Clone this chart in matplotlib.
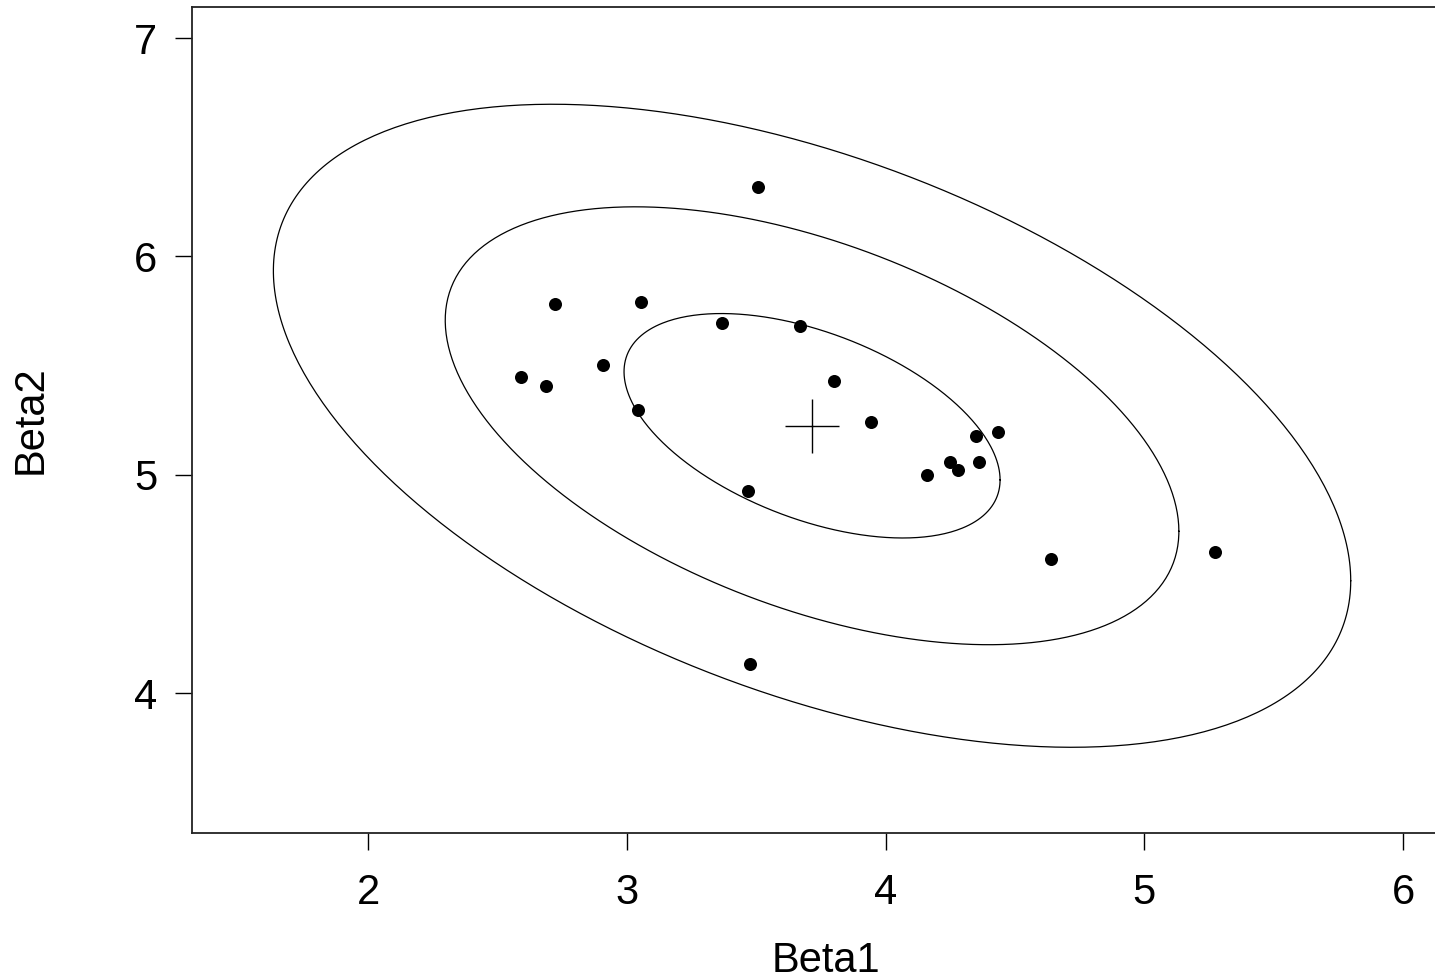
import numpy as np
import matplotlib.pyplot as plt

plt.rcParams['font.family'] = ['Liberation Sans', 'DejaVu Sans']

# sample estimates (Beta1, Beta2)
beta1 = [3.507, 2.723, 3.055, 3.368, 3.670, 2.591, 2.688, 2.908, 3.043, 3.801,
         3.944, 4.350, 4.435, 4.249, 4.280, 4.361, 4.160, 3.469, 4.640, 5.273,
         3.476]
beta2 = [6.318, 5.782, 5.791, 5.695, 5.681, 5.447, 5.406, 5.502, 5.296, 5.429,
         5.241, 5.177, 5.195, 5.058, 5.021, 5.058, 4.998, 4.925, 4.614, 4.646,
         4.133]

# centre of the distribution (marked with +) and ellipse shape
centre = [3.716, 5.224]
sd1 = 0.7266
sd2 = 0.514
rho = -0.482
levels = [1.0, 1.951, 2.865]

fig = plt.figure(figsize=(14.35, 9.8), dpi=100)
W, H = 1435, 980
ax = fig.add_axes([192 / W, (H - 833) / H, (1460 - 192) / W, (833 - 7) / H])

t = np.linspace(0, 2 * np.pi, 400)
for k in levels:
    ex = centre[0] + k * sd1 * np.cos(t)
    ey = centre[1] + k * sd2 * (rho * np.cos(t) + np.sqrt(1 - rho ** 2) * np.sin(t))
    ax.plot(ex, ey, color='black', lw=0.9)

ax.scatter(beta1, beta2, s=88, color='black', zorder=3, linewidths=0)
ax.plot([centre[0]], [centre[1]], marker='+', markersize=39, mew=1.0, color='black')

ax.set_xlim(1.3198, 6.220)
ax.set_ylim(3.3588, 7.142)
ax.set_xticks([2, 3, 4, 5, 6])
ax.set_yticks([4, 5, 6, 7])
ax.tick_params(length=12, width=1.0, labelsize=30, pad=13)
ax.tick_params(axis='x', pad=17)
for s in ax.spines.values():
    s.set_linewidth(1.3)
    s.set_color('#222222')

ax.set_xlabel('Beta1', fontsize=30, labelpad=20)
ax.set_ylabel('Beta2', fontsize=30, labelpad=60)

fig.savefig('out.png', dpi=100)
